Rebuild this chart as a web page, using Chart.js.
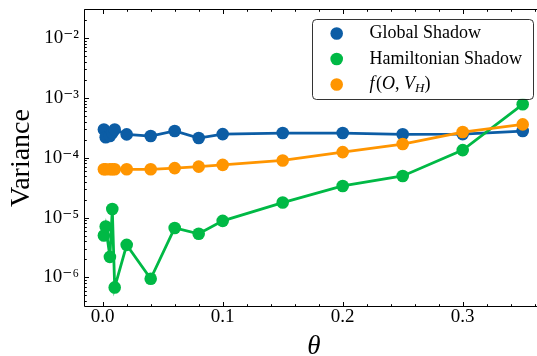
<!DOCTYPE html>
<html>
<head>
<meta charset="utf-8">
<script src="https://cdn.jsdelivr.net/npm/chart.js@4/dist/chart.umd.min.js"></script>
<style>
  html, body { margin: 0; padding: 0; background: #fff; overflow: hidden; }
  #wrap { width: 560px; height: 356px; }
</style>
</head>
<body>
<div id="wrap"><canvas id="c" width="560" height="356"></canvas></div>
<script>
// ---- data ----
const theta = [0.001, 0.0025, 0.006, 0.008, 0.01, 0.02, 0.04, 0.06, 0.08, 0.1, 0.15, 0.2, 0.25, 0.3, 0.35];
const globalShadow = [2.95e-4, 2.2e-4, 2.3e-4, 2.6e-4, 2.95e-4, 2.45e-4, 2.3e-4, 2.8e-4, 2.13e-4, 2.48e-4, 2.58e-4, 2.58e-4, 2.46e-4, 2.48e-4, 2.79e-4];
const hamiltonianShadow = [5.0e-6, 7.1e-6, 2.2e-6, 1.39e-5, 6.8e-7, 3.5e-6, 9.5e-7, 6.7e-6, 5.35e-6, 8.8e-6, 1.78e-5, 3.37e-5, 4.95e-5, 1.34e-4, 7.8e-4];
const fOVH = [6.4e-5, 6.4e-5, 6.4e-5, 6.4e-5, 6.4e-5, 6.4e-5, 6.4e-5, 6.7e-5, 7.1e-5, 7.6e-5, 9.0e-5, 1.24e-4, 1.69e-4, 2.68e-4, 3.6e-4];
const seriesLabels = ['Global Shadow', 'Hamiltonian Shadow', 'f(O, V_H)'];
const xTickValues = [0, 0.1, 0.2, 0.3];
const yTickExponents = [-6, -5, -4, -3, -2];
const yTitle = 'Variance';
const xTitle = 'θ';

const colors = ['#0C5DA5', '#00B945', '#FF9500'];
const SERIF = "'Liberation Serif', 'DejaVu Serif', serif";

const sup = {'-':'\u207B','0':'\u2070','1':'\u00B9','2':'\u00B2','3':'\u00B3','4':'\u2074','5':'\u2075','6':'\u2076','7':'\u2077','8':'\u2078','9':'\u2079'};
function toSup(s){ return String(s).split('').map(c => sup[c] || c).join(''); }

function mk(data){ return theta.map((t,i) => ({x:t, y:data[i]})); }

const frameTicks = {
  id: 'frameTicks',
  afterDraw(chart) {
    const ctx = chart.ctx, a = chart.chartArea, xs = chart.scales.x, ys = chart.scales.y;
    ctx.save();
    ctx.strokeStyle = '#000';
    ctx.lineWidth = 1;
    const L = Math.round(a.left) + 0.5, T = Math.round(a.top) + 0.5, B = Math.round(a.bottom) - 0.5;
    ctx.beginPath();
    ctx.moveTo(L, T); ctx.lineTo(a.right + 30, T);
    ctx.moveTo(L, T); ctx.lineTo(L, B);
    ctx.moveTo(L, B); ctx.lineTo(a.right + 30, B);
    ctx.stroke();
    // x ticks (inward, bottom & top)
    ctx.beginPath();
    for (let i = 0; i <= 18; i++) {
      const v = i * 0.02;
      if (v < xs.min || v > xs.max) continue;
      const px = Math.round(xs.getPixelForValue(v)) + 0.5;
      const len = (i % 5 === 0) ? 4.5 : 2.3;
      ctx.moveTo(px, B); ctx.lineTo(px, B - len);
      ctx.moveTo(px, T); ctx.lineTo(px, T + len);
    }
    // y ticks (inward, left)
    for (let k = -7; k <= -1; k++) {
      for (let m = 1; m <= 9; m++) {
        const v = m * Math.pow(10, k);
        if (v < ys.min || v > ys.max) continue;
        const py = Math.round(ys.getPixelForValue(v)) + 0.5;
        const len = (m === 1) ? 4.5 : 2.3;
        ctx.moveTo(L, py); ctx.lineTo(L + len, py);
      }
    }
    ctx.stroke();

    // y-axis title (upright serif)
    ctx.save();
    ctx.translate(22, (a.top + a.bottom) / 2);
    ctx.rotate(-Math.PI / 2);
    ctx.font = 'normal normal 28px ' + SERIF;
    ctx.fillStyle = '#000';
    ctx.textAlign = 'center';
    ctx.textBaseline = 'middle';
    ctx.fillText(yTitle, 0, 0);
    ctx.restore();

    // legend
    const bx = 312.5, by = 19.5, bw = 221, bh = 80, r = 4;
    ctx.beginPath();
    ctx.moveTo(bx + r, by);
    ctx.arcTo(bx + bw, by, bx + bw, by + bh, r);
    ctx.arcTo(bx + bw, by + bh, bx, by + bh, r);
    ctx.arcTo(bx, by + bh, bx, by, r);
    ctx.arcTo(bx, by, bx + bw, by, r);
    ctx.closePath();
    ctx.fillStyle = 'rgba(255,255,255,0.8)';
    ctx.fill();
    ctx.strokeStyle = 'rgba(0,0,0,0.8)';
    ctx.stroke();
    const rows = [33.5, 59, 84.5];
    ctx.textBaseline = 'middle';
    ctx.textAlign = 'left';
    for (let i = 0; i < 3; i++) {
      ctx.fillStyle = colors[i];
      ctx.beginPath();
      ctx.arc(336.7, rows[i], 6.3, 0, Math.PI * 2);
      ctx.fill();
      ctx.fillStyle = '#000';
      if (i < 2) {
        ctx.font = '18px ' + SERIF;
        ctx.fillText(seriesLabels[i], 369.5, rows[i]);
      } else {
        let x = 369.5;
        const parts = [['italic 18px ', 'f', 0], ['18px ', '(', 0], ['italic 18px ', 'O', 0], ['18px ', ', ', 0], ['italic 18px ', 'V', 0], ['italic 13px ', 'H', 4], ['18px ', ')', 0]];
        for (const [f, t, dy] of parts) {
          ctx.font = f + SERIF;
          ctx.fillText(t, x, rows[i] + dy);
          x += ctx.measureText(t).width + (t === 'f' ? 1.5 : 0);
        }
      }
    }
    ctx.restore();
  }
};

const ds = [globalShadow, hamiltonianShadow, fOVH].map((d, i) => ({
  label: seriesLabels[i],
  data: mk(d),
  borderColor: colors[i],
  backgroundColor: colors[i],
  pointBackgroundColor: colors[i],
  pointBorderWidth: 0,
  pointRadius: 6.3,
  pointHoverRadius: 6.3,
  borderWidth: 2.8,
  tension: 0,
  order: 3 - i,
  clip: false
}));

new Chart(document.getElementById('c'), {
  type: 'line',
  data: { datasets: ds },
  plugins: [frameTicks],
  options: {
    responsive: false,
    devicePixelRatio: 1,
    animation: false,
    layout: { padding: { left: 0, top: 9, right: 16.3, bottom: 0 } },
    plugins: { legend: { display: false }, tooltip: { enabled: false } },
    scales: {
      x: {
        type: 'linear',
        min: -0.01558,
        max: 0.3675,
        grid: { display: false, drawTicks: true, tickLength: 1 },
        border: { display: false },
        afterBuildTicks: s => { s.ticks = xTickValues.map(v => ({ value: v })); },
        afterFit: s => { s.height = 49; },
        ticks: {
          autoSkip: false, maxRotation: 0, padding: 0,
          color: '#000',
          font: { family: SERIF, size: 19, lineHeight: 1 },
          callback: v => Number(v).toFixed(1)
        },
        title: { display: true, text: xTitle, color: '#000', font: { family: SERIF, size: 27, style: 'italic', lineHeight: 0.7 }, padding: { top: 0, bottom: 0 } }
      },
      y: {
        type: 'logarithmic',
        min: Math.pow(10, -6.4946),
        max: Math.pow(10, -1.5155),
        grid: { display: false, drawTicks: true, tickLength: 5 },
        border: { display: false },
        afterBuildTicks: s => { s.ticks = yTickExponents.map(e => ({ value: Math.pow(10, e) })); },
        afterFit: s => { s.width = 84; },
        ticks: {
          autoSkip: false, padding: 0,
          color: '#000',
          font: { family: SERIF, size: 19, lineHeight: 0.9 },
          callback: v => '10' + toSup(Math.round(Math.log10(v)))
        },
        title: { display: false, text: yTitle }
      }
    }
  }
});
</script>
</body>
</html>
